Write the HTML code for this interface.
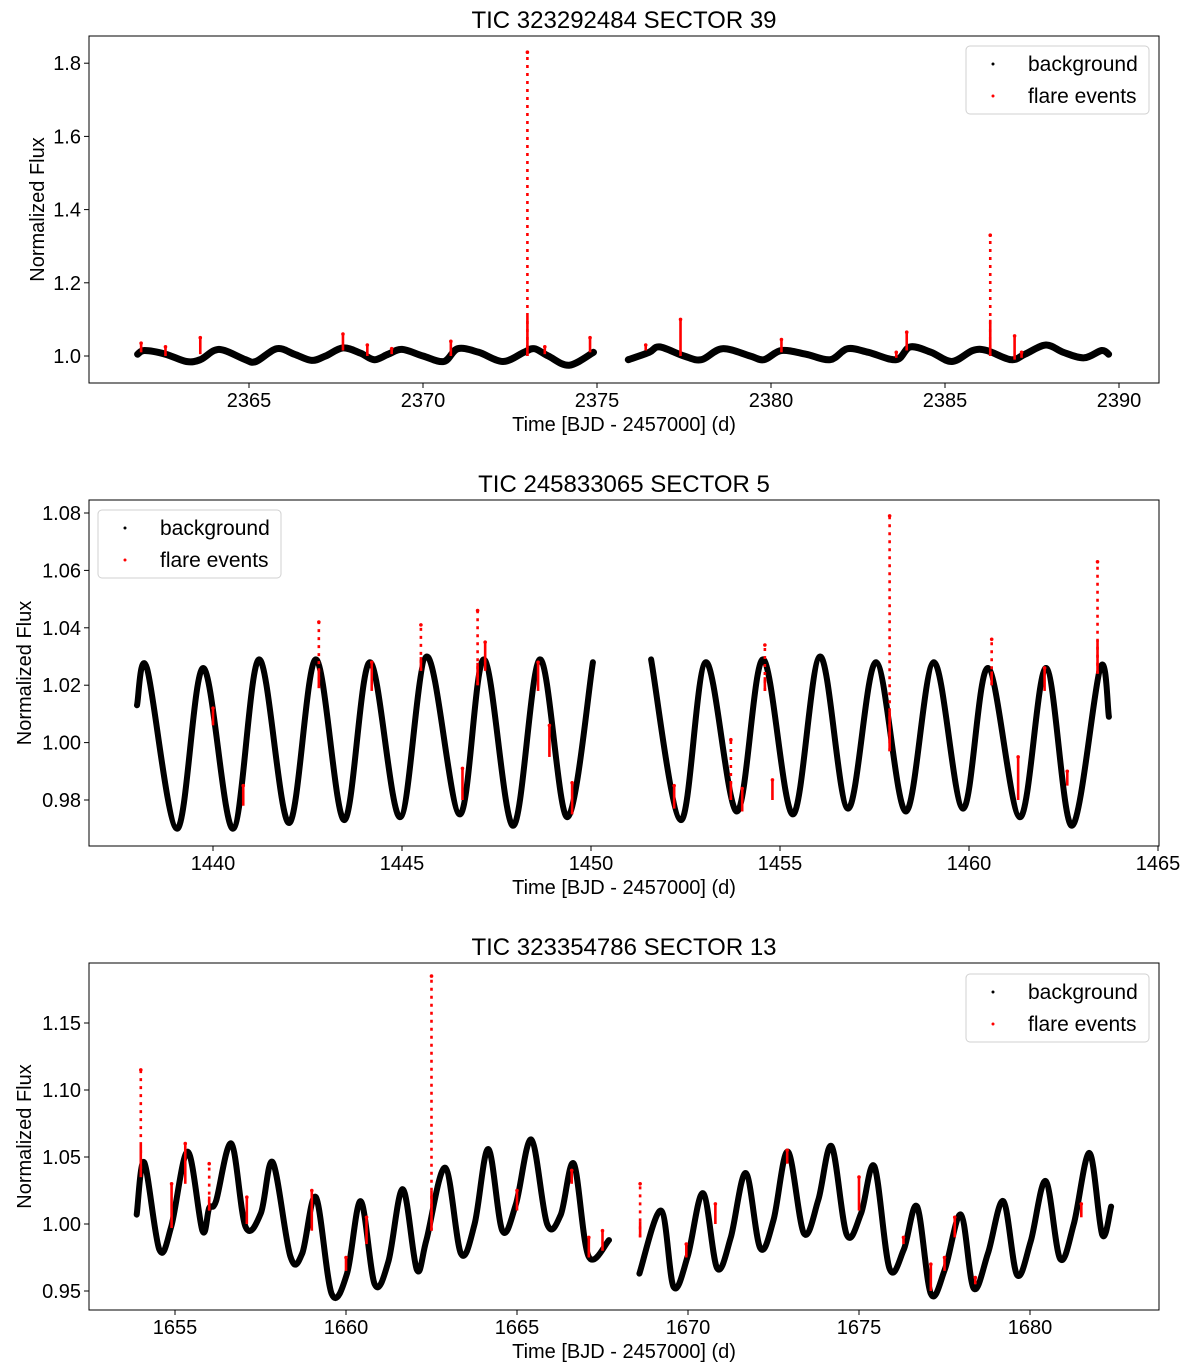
<!DOCTYPE html>
<html><head><meta charset="utf-8">
<style>
html,body{margin:0;padding:0;background:#fff;}
svg{display:block;font-family:"Liberation Sans","DejaVu Sans",sans-serif;}
</style></head>
<body>
<svg id="fig" width="1200" height="1368" viewBox="0 0 1200 1368" xmlns="http://www.w3.org/2000/svg"></svg>
<script>
// ---------- Panel 1: TIC 323292484 Sector 39 ----------
const p1Times = [2361.8,2362.0,2362.6,2363.2,2363.6,2364.0,2364.3,2364.9,2365.2,2365.8,2366.3,2366.8,2367.2,2367.7,2368.2,2368.6,2369.0,2369.4,2370.0,2370.6,2371.0,2371.6,2372.3,2372.9,2373.2,2373.6,2374.2,2374.9,
 null,
 2375.9,2376.5,2376.8,2377.5,2378.0,2378.6,2379.4,2379.8,2380.3,2381.0,2381.7,2382.2,2382.8,2383.6,2384.0,2384.6,2385.2,2385.8,2386.2,2386.9,2387.3,2387.9,2388.4,2389.0,2389.5,2389.7];
const p1Flux = [1.005,1.015,1.005,0.985,0.99,1.015,1.015,0.99,0.985,1.02,1.005,0.988,1.0,1.022,1.008,0.99,1.005,1.018,1.0,0.985,1.02,1.01,0.985,1.01,1.02,1.0,0.975,1.01,
 null,
 0.99,1.01,1.025,1.0,0.99,1.02,1.0,0.99,1.015,1.005,0.99,1.02,1.01,0.99,1.025,1.01,0.985,1.015,1.015,0.99,1.005,1.03,1.01,0.995,1.015,1.005];
const p1FlareT = [2361.9,2362.6,2363.6,2367.7,2368.4,2369.1,2370.8,2373.0,2373.5,2374.8,2376.4,2377.4,2380.3,2383.6,2383.9,2386.3,2387.0,2387.2];
const p1FlareBase = [1.01,1.0,1.005,1.015,1.0,1.005,1.0,1.0,1.005,1.01,1.015,1.0,1.01,0.995,1.015,1.0,0.99,0.995];
const p1FlarePeak = [1.035,1.025,1.05,1.06,1.03,1.02,1.04,1.83,1.025,1.05,1.03,1.10,1.045,1.01,1.065,1.33,1.055,1.01];
const p1XTicks = [2365,2370,2375,2380,2385,2390];
const p1YTicks = [1.0,1.2,1.4,1.6,1.8];

// ---------- Panel 2: TIC 245833065 Sector 5 ----------
const p2Times = [1437.99,1438.25,1439.05,1439.74,1440.53,1441.22,1442.01,1442.72,1443.47,1444.15,1444.95,1445.66,1446.53,1447.17,1447.94,1448.65,1449.37,1450.05,
 null,
 1451.59,1452.38,1453.04,1453.86,1454.55,1455.34,1456.06,1456.80,1457.54,1458.33,1459.07,1459.84,1460.50,1461.35,1462.04,1462.72,1463.47,1463.70];
const p2Flux = [1.013,1.026,0.970,1.026,0.970,1.029,0.972,1.029,0.973,1.028,0.974,1.030,0.975,1.029,0.971,1.029,0.974,1.028,
 null,
 1.029,0.973,1.028,0.976,1.029,0.975,1.030,0.977,1.028,0.976,1.028,0.977,1.026,0.974,1.026,0.971,1.026,1.009];
const p2FlareT = [1440.0,1440.8,1442.8,1444.2,1445.5,1446.6,1447.0,1447.2,1448.6,1448.9,1449.5,1452.2,1453.7,1454.0,1454.6,1454.8,1457.9,1460.6,1461.3,1462.0,1462.6,1463.4];
const p2FlareBase = [1.006,0.978,1.019,1.018,1.025,0.980,1.020,1.025,1.018,0.995,0.975,0.977,0.980,0.976,1.018,0.980,0.997,1.020,0.980,1.018,0.985,1.024];
const p2FlarePeak = [1.012,0.985,1.042,1.028,1.041,0.991,1.046,1.035,1.028,1.006,0.986,0.985,1.001,0.984,1.034,0.987,1.079,1.036,0.995,1.026,0.990,1.063];
const p2XTicks = [1440,1445,1450,1455,1460,1465];
const p2YTicks = [0.98,1.00,1.02,1.04,1.06,1.08];

// ---------- Panel 3: TIC 323354786 Sector 13 ----------
const p3Times = [1653.88,1654.10,1654.54,1654.89,1655.37,1655.80,1656.00,1656.20,1656.65,1657.06,1657.51,1657.86,1658.37,1658.72,1659.12,1659.58,1660.03,1660.43,1660.84,1661.24,1661.66,1662.07,1662.35,1662.90,1663.36,1663.76,1664.16,1664.57,1664.97,1665.42,1665.88,1666.28,1666.66,1667.09,1667.69,
 null,
 1668.58,1669.21,1669.58,1669.99,1670.44,1670.85,1671.25,1671.69,1672.11,1672.50,1672.92,1673.39,1673.81,1674.20,1674.64,1675.06,1675.45,1675.89,1676.31,1676.70,1677.10,1677.51,1677.98,1678.35,1678.77,1679.22,1679.62,1680.02,1680.46,1680.88,1681.28,1681.74,1682.11,1682.37];
const p3Flux = [1.007,1.046,0.981,0.998,1.054,0.995,1.012,1.017,1.060,0.998,1.008,1.046,0.976,0.978,1.020,0.948,0.963,1.017,0.955,0.972,1.026,0.966,0.988,1.042,0.978,1.000,1.056,0.995,1.015,1.063,1.000,1.007,1.045,0.976,0.988,
 null,
 0.963,1.010,0.953,0.976,1.023,0.967,0.990,1.038,0.982,1.003,1.054,0.993,1.018,1.058,0.992,1.008,1.043,0.967,0.981,1.013,0.948,0.966,1.007,0.952,0.978,1.017,0.962,0.987,1.032,0.974,1.000,1.053,0.992,1.013];
const p3FlareT = [1654.0,1654.9,1655.3,1656.0,1657.1,1659.0,1660.0,1660.6,1662.5,1665.0,1666.6,1667.1,1667.5,1668.6,1669.95,1670.8,1672.9,1675.0,1676.3,1677.1,1677.5,1677.8,1678.4,1681.5];
const p3FlareBase = [1.035,0.997,1.030,1.010,1.000,0.995,0.965,0.985,0.995,1.010,1.030,0.975,0.980,0.990,0.975,1.000,1.045,1.010,0.985,0.950,0.965,0.990,0.955,1.005];
const p3FlarePeak = [1.115,1.030,1.060,1.045,1.020,1.025,0.975,1.005,1.185,1.025,1.040,0.990,0.995,1.030,0.985,1.015,1.055,1.035,0.990,0.970,0.975,1.005,0.960,1.015];
const p3XTicks = [1655,1660,1665,1670,1675,1680];
const p3YTicks = [0.95,1.00,1.05,1.10,1.15];

const NS = "http://www.w3.org/2000/svg";
const svg = document.getElementById('fig');
function mk(tag, attrs, parent){
  const e = document.createElementNS(NS, tag);
  for (const k in attrs) e.setAttribute(k, attrs[k]);
  (parent||svg).appendChild(e);
  return e;
}
function smoothPath(pts){
  if (pts.length < 2) return '';
  let d = 'M' + pts[0][0].toFixed(1) + ' ' + pts[0][1].toFixed(1);
  for (let i = 0; i < pts.length - 1; i++){
    const p0 = pts[i-1] || pts[i], p1 = pts[i], p2 = pts[i+1], p3 = pts[i+2] || p2;
    const c1x = p1[0] + (p2[0]-p0[0])/6, c1y = p1[1] + (p2[1]-p0[1])/6;
    const c2x = p2[0] - (p3[0]-p1[0])/6, c2y = p2[1] - (p3[1]-p1[1])/6;
    d += ' C' + c1x.toFixed(1)+' '+c1y.toFixed(1)+' '+c2x.toFixed(1)+' '+c2y.toFixed(1)+' '+p2[0].toFixed(1)+' '+p2[1].toFixed(1);
  }
  return d;
}

function panel(cfg){
  const g = mk('g', {});
  
  
  const X = t => cfg.x0px + (t - cfg.x0) * cfg.pxPerDay;
  const Y = f => cfg.y0px - (f - cfg.y0) * cfg.pxPerUnit;
  const L = 89, R = 1159, T = cfg.top, B = cfg.bottom;

  const title = mk('text', {x: 624, y: T - 8, 'text-anchor': 'middle', 'font-size': 24, fill: '#000'}, g);
  title.textContent = cfg.title;
  
  

  const segs = [[]];
  for (let i = 0; i < cfg.times.length; i++){
    if (cfg.times[i] === null){ segs.push([]); continue; }
    segs[segs.length-1].push([X(cfg.times[i]), Y(cfg.flux[i])]);
  }
  segs.forEach(s => {
    const p = mk('path', {d: smoothPath(s), fill: 'none', stroke: '#000', 'stroke-width': cfg.lw, 'stroke-linejoin': 'round', 'stroke-linecap': 'round'}, g);
    
    
  });

  for (let i = 0; i < cfg.fT.length; i++){
    const x = X(cfg.fT[i]);
    const yb = Y(cfg.fBase[i]), yp = Y(cfg.fPeak[i]);
    const len = yb - yp;
    const attrs = {x1: x, x2: x, y1: yb, y2: yp, stroke: '#ff0000', 'stroke-width': 2.6};
    if (len > 45) attrs['stroke-dasharray'] = '3 5';
    const ln = mk('line', attrs, g);
    
    
    if (len > 45){
      const dense = mk('line', {x1: x, x2: x, y1: yb, y2: yb - Math.min(40, len*0.3), stroke: '#ff0000', 'stroke-width': 2.6}, g);
      
      
    }
    const c = mk('circle', {cx: x, cy: yp, r: 1.8, fill: '#ff0000'}, g);
    
    
  }

  const fr = mk('rect', {x: L, y: T, width: R-L, height: B-T, fill: 'none', stroke: '#000', 'stroke-width': 1}, g);
  
  

  cfg.xt.forEach(v => {
    const x = X(v);
    const tk = mk('line', {x1: x, x2: x, y1: B, y2: B+5, stroke: '#000', 'stroke-width': 1}, g);
    
    
    const tl = mk('text', {x: x, y: B + 24, 'text-anchor': 'middle', 'font-size': 20, fill: '#000'}, g);
    tl.textContent = String(v);
    
    
  });
  cfg.yt.forEach(v => {
    const y = Y(v);
    const tk = mk('line', {x1: L-5, x2: L, y1: y, y2: y, stroke: '#000', 'stroke-width': 1}, g);
    
    
    const tl = mk('text', {x: L - 8, y: y + 7, 'text-anchor': 'end', 'font-size': 20, fill: '#000'}, g);
    tl.textContent = v.toFixed(cfg.dec);
    
    
  });
  const xl = mk('text', {x: 624, y: B + 48, 'text-anchor': 'middle', 'font-size': 20, fill: '#000'}, g);
  xl.textContent = 'Time [BJD - 2457000] (d)';
  
  
  const cy = (T + B) / 2;
  const yl = mk('text', {x: cfg.ylx, y: cy, 'text-anchor': 'middle', 'font-size': 20, fill: '#000', transform: 'rotate(-90 ' + cfg.ylx + ' ' + cy + ')'}, g);
  yl.textContent = 'Normalized Flux';
  
  

  const lg = mk('g', {}, g);
  
  
  const lx = cfg.legX, ly = cfg.legY;
  mk('rect', {x: lx, y: ly, width: 183, height: 68, rx: 4, fill: '#fff', 'fill-opacity': 0.8, stroke: '#d0d0d0', 'stroke-width': 1}, lg);
  const e1 = mk('g', {}, lg);
  
  
  mk('circle', {cx: lx + 27, cy: ly + 18, r: 1.5, fill: '#000'}, e1);
  const t1 = mk('text', {x: lx + 62, y: ly + 25, 'font-size': 21, fill: '#000'}, e1);
  t1.textContent = 'background';
  const e2 = mk('g', {}, lg);
  
  
  mk('circle', {cx: lx + 27, cy: ly + 50, r: 1.5, fill: '#ff0000'}, e2);
  const t2 = mk('text', {x: lx + 62, y: ly + 57, 'font-size': 21, fill: '#000'}, e2);
  t2.textContent = 'flare events';
}

panel({name:'panel-sector-39', title:'TIC 323292484 SECTOR 39', top:36, bottom:383,
  x0:2365, x0px:249, pxPerDay:34.8, y0:1.0, y0px:356, pxPerUnit:366,
  times:p1Times, flux:p1Flux, fT:p1FlareT, fBase:p1FlareBase, fPeak:p1FlarePeak,
  xt:p1XTicks, yt:p1YTicks, dec:1, lw:7, ylx:44, legX:966, legY:46});
panel({name:'panel-sector-5', title:'TIC 245833065 SECTOR 5', top:500, bottom:846,
  x0:1440, x0px:213, pxPerDay:37.8, y0:0.98, y0px:800, pxPerUnit:2870,
  times:p2Times, flux:p2Flux, fT:p2FlareT, fBase:p2FlareBase, fPeak:p2FlarePeak,
  xt:p2XTicks, yt:p2YTicks, dec:2, lw:6, ylx:31, legX:98, legY:510});
panel({name:'panel-sector-13', title:'TIC 323354786 SECTOR 13', top:963, bottom:1310,
  x0:1655, x0px:175, pxPerDay:34.2, y0:1.0, y0px:1224, pxPerUnit:1340,
  times:p3Times, flux:p3Flux, fT:p3FlareT, fBase:p3FlareBase, fPeak:p3FlarePeak,
  xt:p3XTicks, yt:p3YTicks, dec:2, lw:6, ylx:31, legX:966, legY:974});
</script>
</body></html>
